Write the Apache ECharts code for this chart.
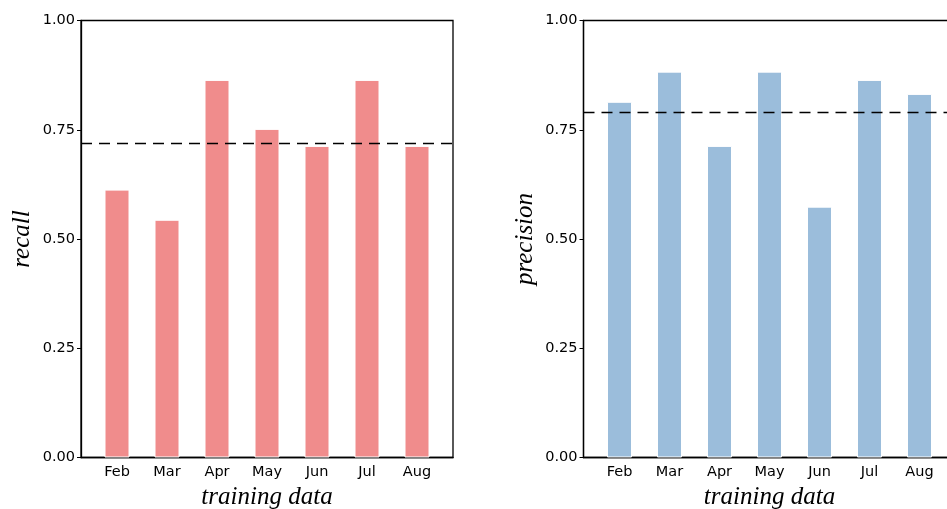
<!DOCTYPE html>
<html>
<head>
<meta charset="utf-8">
<script src="https://cdn.jsdelivr.net/npm/echarts@6/dist/echarts.min.js"></script>
<style>
  html, body { margin: 0; padding: 0; background: #fff; }
  #chart { width: 947px; height: 509px; }
</style>
</head>
<body>
<div id="chart"></div>
<script>
const months = ['Feb', 'Mar', 'Apr', 'May', 'Jun', 'Jul', 'Aug'];
const recall = [0.613, 0.544, 0.864, 0.752, 0.713, 0.864, 0.713];
const precision = [0.814, 0.883, 0.713, 0.883, 0.574, 0.864, 0.832];
const recallMean = 0.72;
const precisionMean = 0.79;

const chart = echarts.init(document.getElementById('chart'));

const tickFont = { fontFamily: 'DejaVu Sans', fontSize: 14.5, color: '#000' };
const nameFont = { fontFamily: 'Liberation Serif', fontStyle: 'italic', fontSize: 25, color: '#000' };
const idx = months.map((m, i) => i);

function xAxis(gridIndex) {
  return {
    type: 'value',
    gridIndex,
    min: -0.72,
    max: 6.72,
    name: 'training data',
    nameLocation: 'middle',
    nameGap: 27,
    nameTextStyle: nameFont,
    axisLine: { show: true, onZero: false, lineStyle: { color: '#000', width: 1.3 } },
    axisTick: { show: true, inside: true, length: 4, customValues: idx, lineStyle: { color: '#000' } },
    axisLabel: { customValues: idx, formatter: v => months[v], margin: 7, ...tickFont },
    splitLine: { show: false },
  };
}

function yAxis(gridIndex, name) {
  return {
    type: 'value',
    gridIndex,
    min: 0,
    max: 1,
    interval: 0.25,
    name,
    nameLocation: 'middle',
    nameGap: 46,
    nameTextStyle: nameFont,
    axisLine: { show: true, onZero: false, lineStyle: { color: '#000', width: 1.3 } },
    axisTick: { show: true, inside: false, length: 4, lineStyle: { color: '#000' } },
    axisLabel: { formatter: v => v.toFixed(2), margin: 6, ...tickFont },
    splitLine: { show: false },
  };
}

function barSeries(i, values, color, mean) {
  return {
    type: 'bar',
    xAxisIndex: i,
    yAxisIndex: i,
    data: values.map((v, k) => [k, v]),
    barWidth: 25,
    itemStyle: { color, borderColor: '#fff', borderWidth: 1 },
    markLine: {
      silent: true,
      symbol: 'none',
      label: { show: false },
      lineStyle: { color: '#000', type: [11, 7], width: 1.3 },
      data: [{ yAxis: mean }],
    },
  };
}

const gridBase = {
  top: 20.5, width: 372, height: 437,
  show: true, borderColor: '#000', borderWidth: 1.3, backgroundColor: 'transparent',
  containLabel: false, outerBoundsMode: 'none',
};

chart.setOption({
  animation: false,
  grid: [
    { ...gridBase, left: 81 },
    { ...gridBase, left: 583.5 },
  ],
  xAxis: [xAxis(0), xAxis(1)],
  yAxis: [yAxis(0, 'recall'), yAxis(1, 'precision')],
  series: [
    barSeries(0, recall, '#f08c8c', recallMean),
    barSeries(1, precision, '#9bbddb', precisionMean),
  ],
});
</script>
</body>
</html>
